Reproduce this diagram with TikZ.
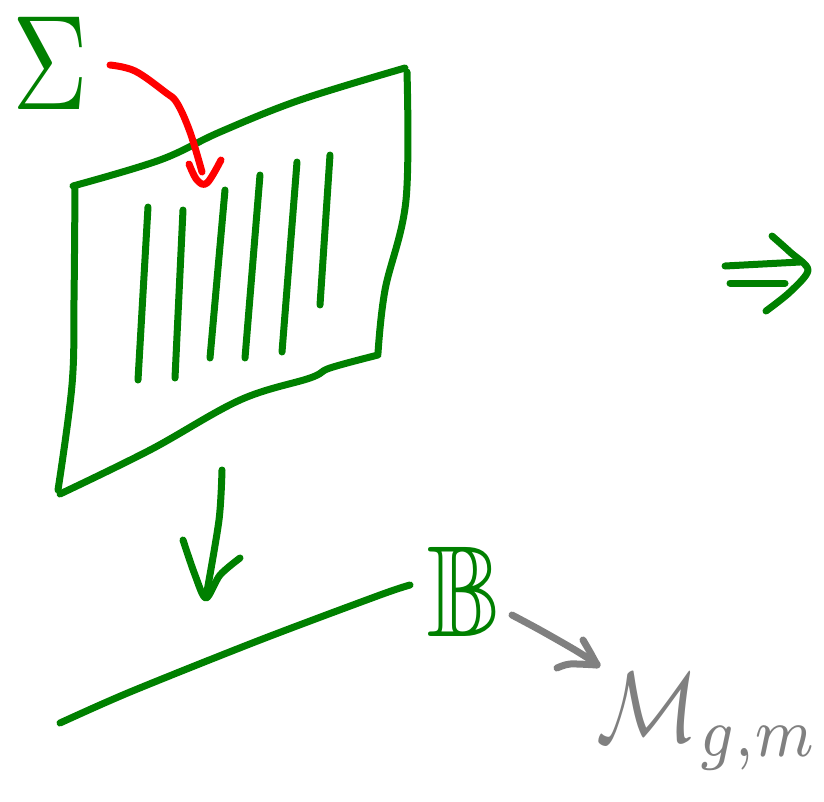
\documentclass[tikz,border=0pt]{standalone}
\usepackage{amssymb}
\usepackage{graphicx}
\definecolor{pen}{RGB}{0,128,0}
\definecolor{redpen}{RGB}{255,0,0}
\definecolor{graypen}{RGB}{128,128,128}
\tikzset{
  stroke/.style={line width=7pt, line cap=round, line join=round},
  green stroke/.style={stroke, draw=pen},
  red stroke/.style={stroke, draw=redpen},
  gray stroke/.style={stroke, draw=graypen},
  label text/.style={inner sep=0pt, anchor=center}
}
\begin{document}
\begin{tikzpicture}[x=1pt,y=-1pt]
\useasboundingbox (0,0) rectangle (824,801);
% text nodes
\node[label text, text=pen] (sigma) at (50,63) {\scalebox{10.5}[13.5]{$\Sigma$}};
\node[label text, text=pen] (B) at (464,592) {\scalebox{11}[13]{$\mathbb{B}$}};
\node[label text, text=graypen] (M) at (708,722) {\scalebox{8.5}[10]{$\mathcal{M}_{g,m}$}};
% sheet
\draw[green stroke] plot[smooth, tension=0.6] coordinates {(73,186) (160,160) (220,132) (300,100) (405,68)};
\draw[green stroke] plot[smooth, tension=0.6] coordinates {(407,72) (406,200) (385,290) (378,353)};
\draw[green stroke] plot[smooth, tension=0.6] coordinates {(378,355) (330,368) (310,378) (240,400) (150,450) (60,494)};
\draw[green stroke] plot[smooth, tension=0.6] coordinates {(75,186) (74,300) (72,385) (58,490)};
% stripes
\draw[green stroke] (148,207) -- (138,380);
\draw[green stroke] (183,210) -- (175,378);
\draw[green stroke] (225,190) -- (210,358);
\draw[green stroke] (260,175) -- (245,358);
\draw[green stroke] (297,162) -- (282,352);
\draw[green stroke] (330,155) -- (320,305);
% red arrow from Sigma to sheet
\coordinate (rs) at (110,65);
\coordinate (re) at (202,172);
\draw[red stroke] plot[smooth, tension=0.6] coordinates {(rs) (135,71) (165,92) (177,103) (190,132) (re)};
\draw[red stroke] plot[smooth, tension=0.6] coordinates {(189,164) (197,180) (207,183) (221,160)};
% down arrow
\coordinate (ds) at (222,470);
\coordinate (de) at (206,597);
\draw[green stroke] plot[smooth] coordinates {(ds) (219,520) (de)};
\draw[green stroke] plot[smooth] coordinates {(183,540) (195,575) (206,598) (220,575) (240,558)};
% bottom line
\draw[green stroke] plot[smooth, tension=0.5] coordinates {(60,723) (130,692) (260,640) (380,595) (410,585)};
% gray arrow B -> M
\coordinate (gs) at (512,615);
\coordinate (ge) at (597,664);
\draw[gray stroke] plot[smooth] coordinates {(gs) (540,630) (575,650) (ge)};
\draw[gray stroke] plot[smooth] coordinates {(557,668) (570,664) (597,665)};
\draw[gray stroke] plot[smooth] coordinates {(583,640) (590,652) (597,665)};
% double arrow
\draw[green stroke] (725,266) -- (800,262);
\draw[green stroke] (730,283) -- (785,283);
\draw[green stroke] plot[smooth, tension=0.5] coordinates {(772,236) (790,252) (808,270) (790,292) (766,311)};
\end{tikzpicture}
\end{document}
